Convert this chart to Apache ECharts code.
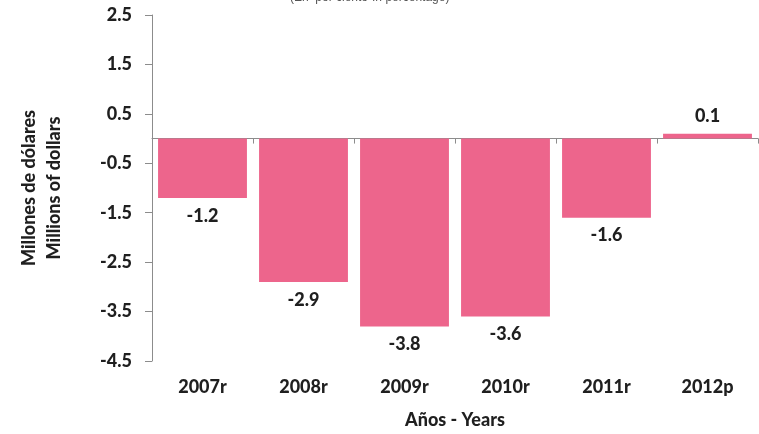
<!DOCTYPE html>
<html><head><meta charset="utf-8">
<script src="https://cdn.jsdelivr.net/npm/echarts@6/dist/echarts.min.js"></script>
<style>html,body{margin:0;padding:0;background:#fff}#c{width:759px;height:434px}</style>
</head><body><div id="c"></div>
<script>
const categories = ['2007r','2008r','2009r','2010r','2011r','2012p'];
const values = [-1.2, -2.9, -3.8, -3.6, -1.6, 0.1];
const tickLabels = ['-4.5','-3.5','-2.5','-1.5','-0.5','0.5','1.5','2.5'];
const yTitle = 'Millones de dólares\nMillions of dollars';
const xTitle = 'Años - Years';
const topNote = '(En  por ciento-In percentage)';

const FONT = 'Lato, "Open Sans", sans-serif';
const W = 900;
const TXT = '#1f1f1f';
const chart = echarts.init(document.getElementById('c'));
chart.setOption({
  animation: false,
  backgroundColor: '#fff',
  graphic: [{type:'text', left: 290, top: -8, style:{text: topNote, font: '12px Arial, "Liberation Sans", sans-serif', fill:'#555'}}],
  grid: {left: 152, right: 1, top: 15, bottom: 73},
  xAxis: [
    {type:'category', data: categories, axisLine:{onZero:true, onZeroAxisIndex:0, lineStyle:{color:'#8c8c8c', width:1}},
     axisTick:{show:true, length:5, lineStyle:{color:'#8c8c8c'}}, axisLabel:{show:false}},
    {type:'category', data: categories, position:'bottom', axisLine:{show:false, onZero:false}, axisTick:{show:false},
     axisLabel:{show:true, margin:17, fontFamily:FONT, fontWeight:W, fontSize:18, color:TXT},
     name: xTitle, nameLocation:'middle', nameGap:50,
     nameTextStyle:{fontFamily:FONT, fontWeight:W, fontSize:18, color:TXT}}
  ],
  yAxis: [
    {type:'value', min:-4.5, max:2.5, show:false},
    {type:'value', min:0, max:tickLabels.length-1, interval:1, position:'left',
     axisLine:{show:true, lineStyle:{color:'#8c8c8c'}}, axisTick:{show:true, length:7, lineStyle:{color:'#8c8c8c'}},
     splitLine:{show:false},
     axisLabel:{margin:20, fontFamily:FONT, fontWeight:W, fontSize:18, color:TXT, formatter:(v)=>tickLabels[Math.round(v)]},
     name: yTitle, nameLocation:'middle', nameRotate:90, nameGap:85,
     nameTextStyle:{fontFamily:FONT, fontWeight:W, fontSize:18, color:TXT, lineHeight:25, align:'center'}}
  ],
  series: [{
    type:'bar', xAxisIndex:0, yAxisIndex:0, barCategoryGap:'12%',
    itemStyle:{color:'#ED658C'},
    data: values.map(v => ({value:v, label:{position: v<0?'bottom':'top', distance: v<0?9:8}})),
    label:{show:true, fontFamily:FONT, fontWeight:W, fontSize:18, color:TXT, formatter:(p)=>p.value.toFixed(1)}
  }]
});
</script></body></html>
